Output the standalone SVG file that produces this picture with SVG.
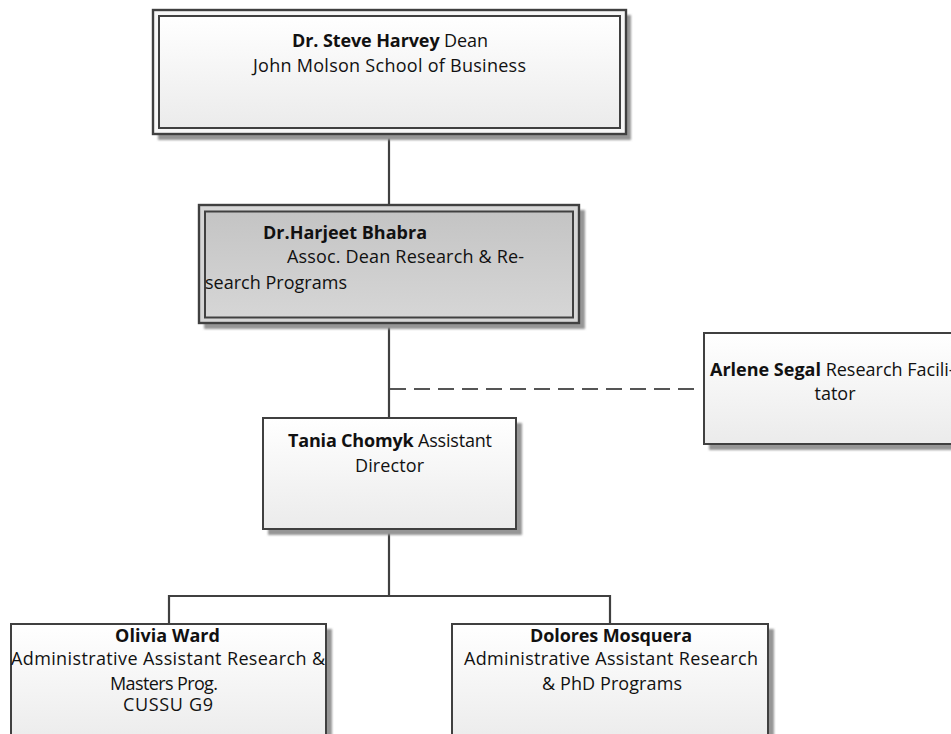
<svg xmlns="http://www.w3.org/2000/svg" width="951" height="734" viewBox="0 0 951 734">
<style>
.t{font-family:"Open Sans","Liberation Sans",sans-serif;font-size:18px;fill:#111}
.b{font-weight:bold}
.box{stroke:#404040;stroke-width:2;fill:url(#gw)}
.shadow{fill:#969696;filter:url(#blur)}
.conn{stroke:#404040;stroke-width:2.2;fill:none}
.dash{stroke:#555;stroke-width:2;fill:none;stroke-dasharray:16 8}
</style>
<defs>
<linearGradient id="gw" x1="0" y1="0" x2="0" y2="1"><stop offset="0" stop-color="#ffffff"/><stop offset="1" stop-color="#ebebeb"/></linearGradient>
<linearGradient id="gg" x1="0" y1="0" x2="0" y2="1"><stop offset="0" stop-color="#c4c4c4"/><stop offset="1" stop-color="#d6d6d6"/></linearGradient>
<filter id="blur" x="-5%" y="-5%" width="110%" height="110%"><feGaussianBlur stdDeviation="1.2"/></filter>
</defs>
<g id="connectors">
<line class="conn" x1="389" y1="134" x2="389" y2="205"/>
<line class="conn" x1="389" y1="323" x2="389" y2="418"/>
<line class="dash" x1="390" y1="389" x2="697" y2="389"/>
<line class="conn" x1="389" y1="529" x2="389" y2="596"/>
<line class="conn" x1="168" y1="596" x2="611" y2="596"/>
<line class="conn" x1="169" y1="595" x2="169" y2="624"/>
<line class="conn" x1="610" y1="595" x2="610" y2="624"/>
</g>
<g id="dean">
<rect class="shadow" x="158" y="15" width="473" height="125"/>
<rect x="153" y="10" width="473" height="124" fill="#f7f7f7" stroke="#404040" stroke-width="2.4"/>
<rect class="box" x="159" y="16" width="461" height="112"/>
<text class="t" x="292" y="47" textLength="196" lengthAdjust="spacing"><tspan class="b">Dr. Steve Harvey</tspan> Dean</text>
<text class="t" x="253" y="72" textLength="273" lengthAdjust="spacing">John Molson School of Business</text>
</g>
<g id="assoc">
<rect class="shadow" x="204" y="210" width="381" height="119"/>
<rect x="199" y="205" width="380" height="118" fill="#d6d6d6" stroke="#404040" stroke-width="2.4"/>
<rect x="205" y="211.5" width="368" height="106" fill="url(#gg)" stroke="#404040" stroke-width="2"/>
<text class="t b" x="263" y="239" textLength="164" lengthAdjust="spacing">Dr.Harjeet Bhabra</text>
<text class="t" x="287" y="263" textLength="237" lengthAdjust="spacing">Assoc.  Dean Research &amp; Re-</text>
<text class="t" x="205" y="289" textLength="142" lengthAdjust="spacing">search Programs</text>
</g>
<g id="facilitator">
<rect class="shadow" x="709" y="338" width="260" height="112"/>
<rect class="box" x="704" y="333" width="260" height="111"/>
<text class="t" x="710" y="376"><tspan class="b">Arlene Segal</tspan> Research Facili-</text>
<text class="t" x="835" y="400" text-anchor="middle">tator</text>
</g>
<g id="assistant-director">
<rect class="shadow" x="268" y="423" width="254" height="112"/>
<rect class="box" x="263" y="418" width="253" height="111"/>
<text class="t" x="288" y="447" textLength="204" lengthAdjust="spacing"><tspan class="b">Tania Chomyk</tspan> Assistant</text>
<text class="t" x="355" y="472" textLength="69" lengthAdjust="spacing">Director</text>
</g>
<g id="olivia">
<rect class="shadow" x="16" y="629" width="316" height="120"/>
<rect class="box" x="11" y="624" width="315" height="120"/>
<text class="t b" x="115" y="642" textLength="105" lengthAdjust="spacing">Olivia Ward</text>
<text class="t" x="11" y="665" textLength="314" lengthAdjust="spacing">Administrative Assistant Research &amp;</text>
<text class="t" x="110" y="690" textLength="108" lengthAdjust="spacing">Masters Prog.</text>
<text class="t" x="123" y="711" textLength="90" lengthAdjust="spacing">CUSSU G9</text>
</g>
<g id="dolores">
<rect class="shadow" x="457" y="629" width="317" height="120"/>
<rect class="box" x="452" y="624" width="316" height="120"/>
<text class="t b" x="530" y="642" textLength="162" lengthAdjust="spacing">Dolores Mosquera</text>
<text class="t" x="464" y="665" textLength="294" lengthAdjust="spacing">Administrative Assistant Research</text>
<text class="t" x="542" y="690" textLength="140" lengthAdjust="spacing">&amp; PhD Programs</text>
</g>
</svg>
